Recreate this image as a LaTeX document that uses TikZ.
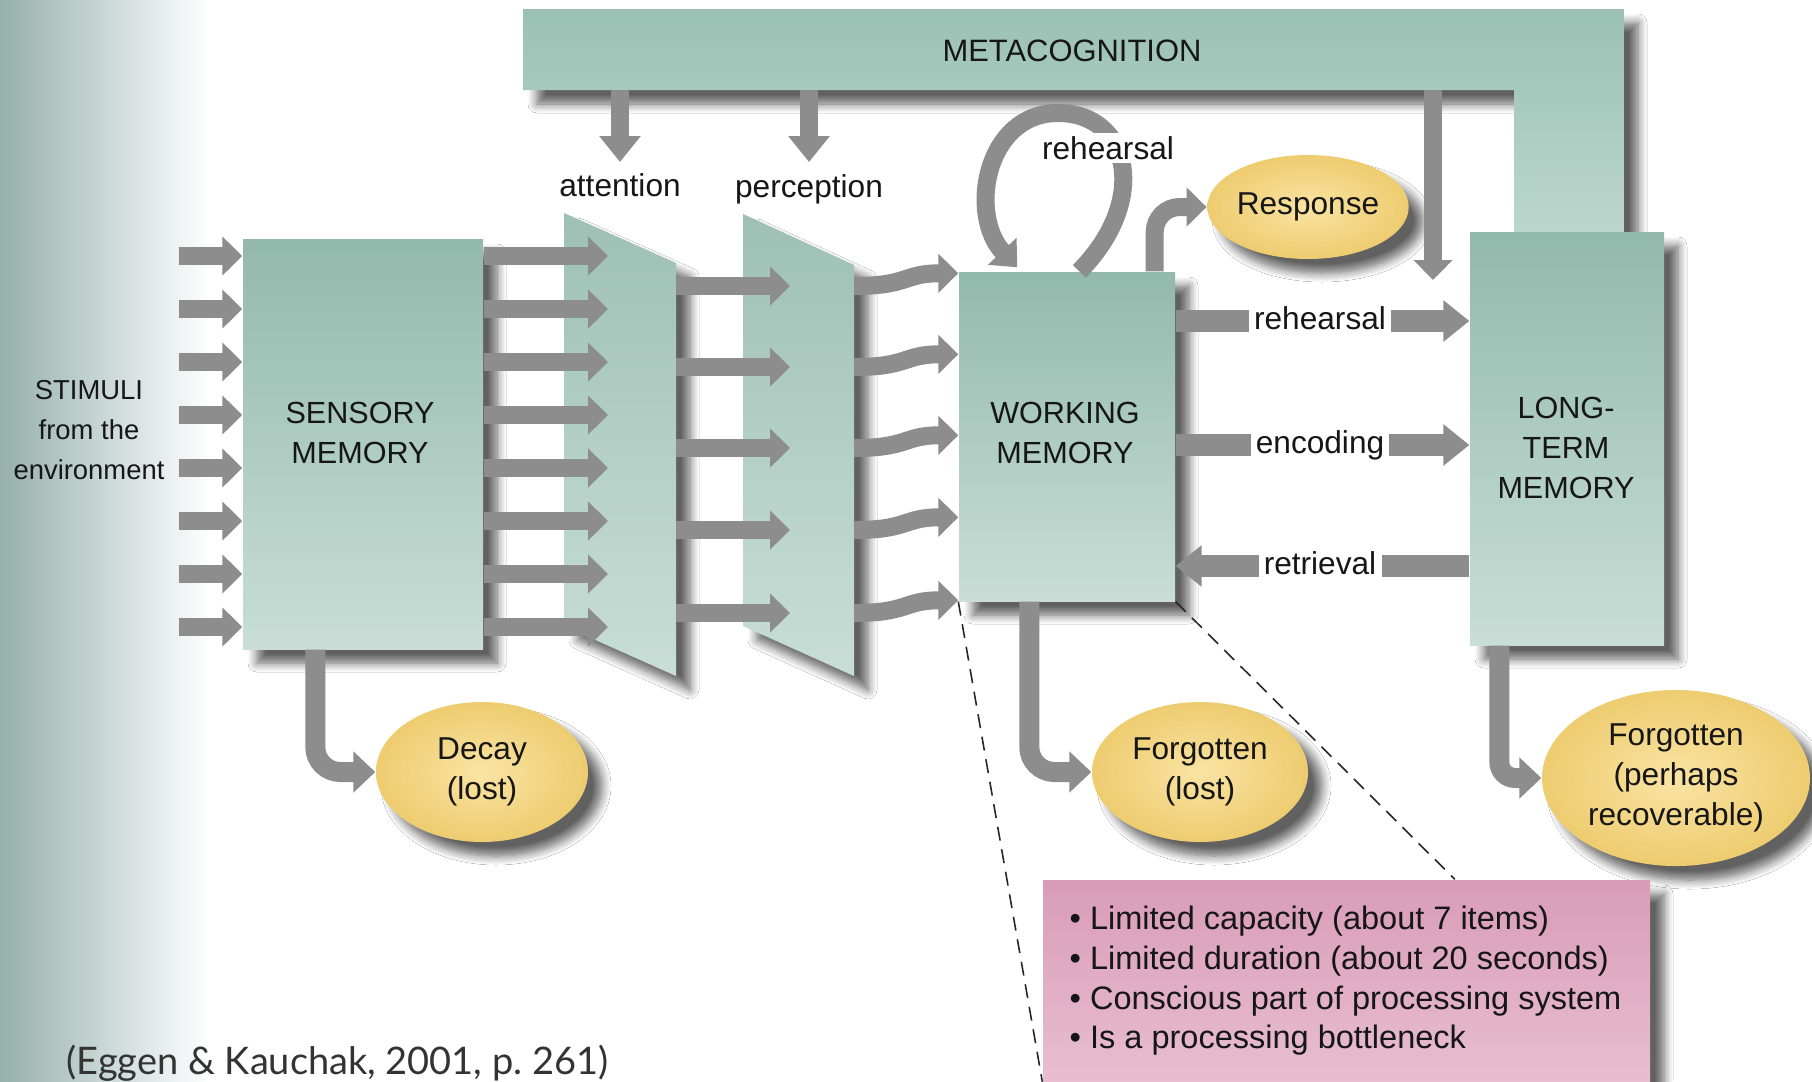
\documentclass[tikz,border=0pt]{standalone}
\usepackage{fontspec}
\setmainfont{Liberation Sans}
\newfontfamily\citefont{Lato}
\usetikzlibrary{arrows.meta,shapes.geometric,shadows.blur,calc}
\definecolor{boxtop}{HTML}{93B9AC}
\definecolor{boxbot}{HTML}{C8DED7}
\definecolor{metatop}{HTML}{9BC1B4}
\definecolor{metabot}{HTML}{BCD7CE}
\definecolor{arrowgray}{HTML}{8D8D8D}
\definecolor{ellin}{HTML}{F9E4A3}
\definecolor{ellout}{HTML}{EECC70}
\definecolor{pinktop}{HTML}{D99CB8}
\definecolor{pinkbot}{HTML}{E8BED0}
\definecolor{bgleft}{HTML}{95B0AC}
\definecolor{bgmid}{HTML}{D4E2DF}
\definecolor{txt}{HTML}{161616}
\tikzset{
  shad/.style={blur shadow={shadow xshift=1.4mm, shadow yshift=-1.4mm, shadow blur radius=0.9mm, shadow blur steps=10, shadow opacity=62}},
  membox/.style={rectangle, draw=none, top color=boxtop, bottom color=boxbot, shad, inner sep=0pt},
  para/.style={top color=boxtop!90, bottom color=boxbot, shad},
  lbl/.style={text=txt, font=\fontsize{9}{11.4}\selectfont, align=center, inner sep=1pt},
  boxlbl/.style={text=txt, font=\fontsize{8.7}{11.4}\selectfont, align=center, inner sep=0pt},
  ell/.style={ellipse, draw=none, inner color=ellin, outer color=ellout, shad, inner sep=0pt, text=txt, font=\fontsize{9}{11.4}\selectfont, align=center},
  thinarrow/.style={draw=arrowgray, line width=1.8mm, -{Triangle[length=2mm,width=3.8mm]}},
  midarrow/.style={draw=arrowgray, line width=2mm, -{Triangle[length=2.2mm,width=4mm]}},
  widearrow/.style={draw=arrowgray, line width=2.2mm, -{Triangle[length=2.6mm,width=4mm]}},
  arrowlbl/.style={lbl, fill=white, inner xsep=1.5pt, inner ysep=0.8pt, text height=6.8pt, text depth=1.9pt},
  notelbl/.style={text=txt, font=\fontsize{9.25}{11.4}\selectfont, anchor=base west, inner sep=0pt},
  dashline/.style={draw=black!85, line width=0.45pt, dash pattern=on 4pt off 2.5pt},
}
\begin{document}
\begin{tikzpicture}[x=0.1mm,y=-0.1mm]
\useasboundingbox (0,0) rectangle (1812,1081);
\clip (0,0) rectangle (1812,1081);
\fill[white] (0,0) rectangle (1812,1081);
\shade[left color=bgleft, middle color=bgmid, right color=white] (0,0) rectangle (210,1081);

% metacognition bar
\path[top color=metatop, bottom color=metabot, shad] (523,9) -- (1624,9) -- (1624,240) -- (1514,240) -- (1514,90) -- (523,90) coordinate (metabl) -- cycle;
\node[boxlbl, font=\fontsize{8.8}{11}\selectfont] (meta) at (1072,51) {METACOGNITION};

% attention & perception filters
\path[para] (564,213) coordinate (attNW) -- (676,263) coordinate (attNE) -- (676,676) -- (564,626) -- cycle;
\path[para] (743,214) coordinate (perNW) -- (854,265) coordinate (perNE) -- (854,676) -- (743,626) -- cycle;

% memory boxes
\node[membox, minimum width=24mm, minimum height=41mm] (sens) at (363,444) {};
\node[membox, minimum width=21.6mm, minimum height=32.9mm] (wm) at (1067,436.5) {};
\node[membox, minimum width=19.4mm, minimum height=41.3mm] (ltm) at (1567,438.5) {};

% ellipses
\node[ell, minimum width=17.2mm, minimum height=10.4mm] (resp) at (1308,207) {Response};
\node[ell, minimum width=21.2mm, minimum height=14mm] (decay) at (482,772) {Decay\\(lost)};
\node[ell, minimum width=21.6mm, minimum height=14mm] (forg1) at (1200,772) {Forgotten\\(lost)};
\node[ell, minimum width=26.8mm, minimum height=17.6mm] (forg2) at (1676,778) {Forgotten\\(perhaps\\recoverable)};

% notes box
\node[rectangle, top color=pinktop, bottom color=pinkbot, shad, minimum width=60.7mm, minimum height=20.1mm, inner sep=0pt] (notes) at (1346.5,980.5) {};

% stimuli and sensory outputs
\foreach \i/\y in {0/256,1/309,2/362,3/415,4/468,5/521,6/574,7/627}{
  \coordinate (st\i) at (179,\y);
  \coordinate (so\i) at (608,\y);
  \draw[thinarrow] (st\i) -- (st\i -| sens.west);
  \draw[thinarrow] (st\i -| sens.east) -- (so\i);
}

% attention outputs and perception outputs
\foreach \i/\y in {0/286,1/367,2/448,3/530,4/613}{
  \coordinate (ao\i) at (790,\y);
  \draw[thinarrow] (attNE |- ao\i) -- (ao\i);
  \draw[thinarrow] (perNE |- ao\i) .. controls +(55,0) and +(-55,0) .. ($(wm.north west)+(0,\y-284)$);
}

% labels attention/perception and metacognition arrows
\node[lbl, anchor=base] (attn) at (620,196) {attention};
\node[lbl, anchor=base] (perc) at (809,197) {perception};
\draw[thinarrow, -{Triangle[length=2.6mm,width=4mm]}] (metabl -| attn.base) -- ($(attn.base)+(0,-34)$);
\draw[thinarrow, -{Triangle[length=2.6mm,width=4mm]}] (metabl -| perc.base) -- ($(perc.base)+(0,-35)$);
\coordinate (mr) at (1433,280);
\draw[thinarrow] (metabl -| mr) -- (mr);

% rehearsal loop
\draw[thinarrow, -{Triangle[length=2.2mm,width=3.8mm]}] ($(wm.north west)+(121,0)$) .. controls (1150,200) and (1130,113) .. (1058,113) .. controls (985,113) and (968,215) .. ($(wm.north west)+(59,-4)$);
\node[lbl, fill=white, inner sep=1pt] (reh1) at (1108,148) {rehearsal};

% response
\draw[thinarrow, rounded corners=2.5mm] ($(wm.north east)+(-21,0)$) |- (resp.west);

% WM <-> LTM
\draw[widearrow] (wm.east |- 0,321) -- (ltm.west |- 0,321);
\node[arrowlbl] (reh2) at (1320,321) {rehearsal};
\draw[widearrow] (wm.east |- 0,445) -- (ltm.west |- 0,445);
\node[arrowlbl] (enc) at (1320,445) {encoding};
\draw[widearrow] (ltm.west |- 0,566) -- (wm.east |- 0,566);
\node[arrowlbl] (ret) at (1320,566) {retrieval};

% losses
\draw[midarrow, rounded corners=2.5mm] ($(sens.south west)+(73,0)$) |- (decay.west);
\draw[midarrow, rounded corners=2.5mm] ($(wm.south west)+(71,0)$) |- (forg1.west);
\draw[midarrow, rounded corners=1.6mm] ($(ltm.south west)+(30,0)$) |- (forg2.west);

% box labels
\node[boxlbl] (senst) at (360,433) {SENSORY\\MEMORY};
\node[boxlbl] (wmt) at (1065,433) {WORKING\\MEMORY};
\node[boxlbl] (ltmt) at (1566,448) {LONG-\\TERM\\MEMORY};
\node[lbl, font=\fontsize{7.8}{11.4}\selectfont, inner sep=0pt] (stim) at (89,430) {STIMULI\\from the\\environment};

% notes text
\node[notelbl] (n1) at (1069,929) {• Limited capacity (about 7 items)};
\node[notelbl] (n2) at (1069,969) {• Limited duration (about 20 seconds)};
\node[notelbl] (n3) at (1069,1009) {• Conscious part of processing system};
\node[notelbl] (n4) at (1069,1048) {• Is a processing bottleneck};

% dashed callout
\draw[dashline] (wm.south west) -- (notes.south west);
\draw[dashline] (wm.south east) -- ($(notes.north west)!0.678!(notes.north east)$);

% citation
\node[anchor=base west, inner sep=0pt, text=black!80, font=\citefont\fontsize{10.8}{12}\selectfont] (cite) at (66,1074) {(Eggen \& Kauchak, 2001, p.\ 261)};
\end{tikzpicture}
\end{document}
